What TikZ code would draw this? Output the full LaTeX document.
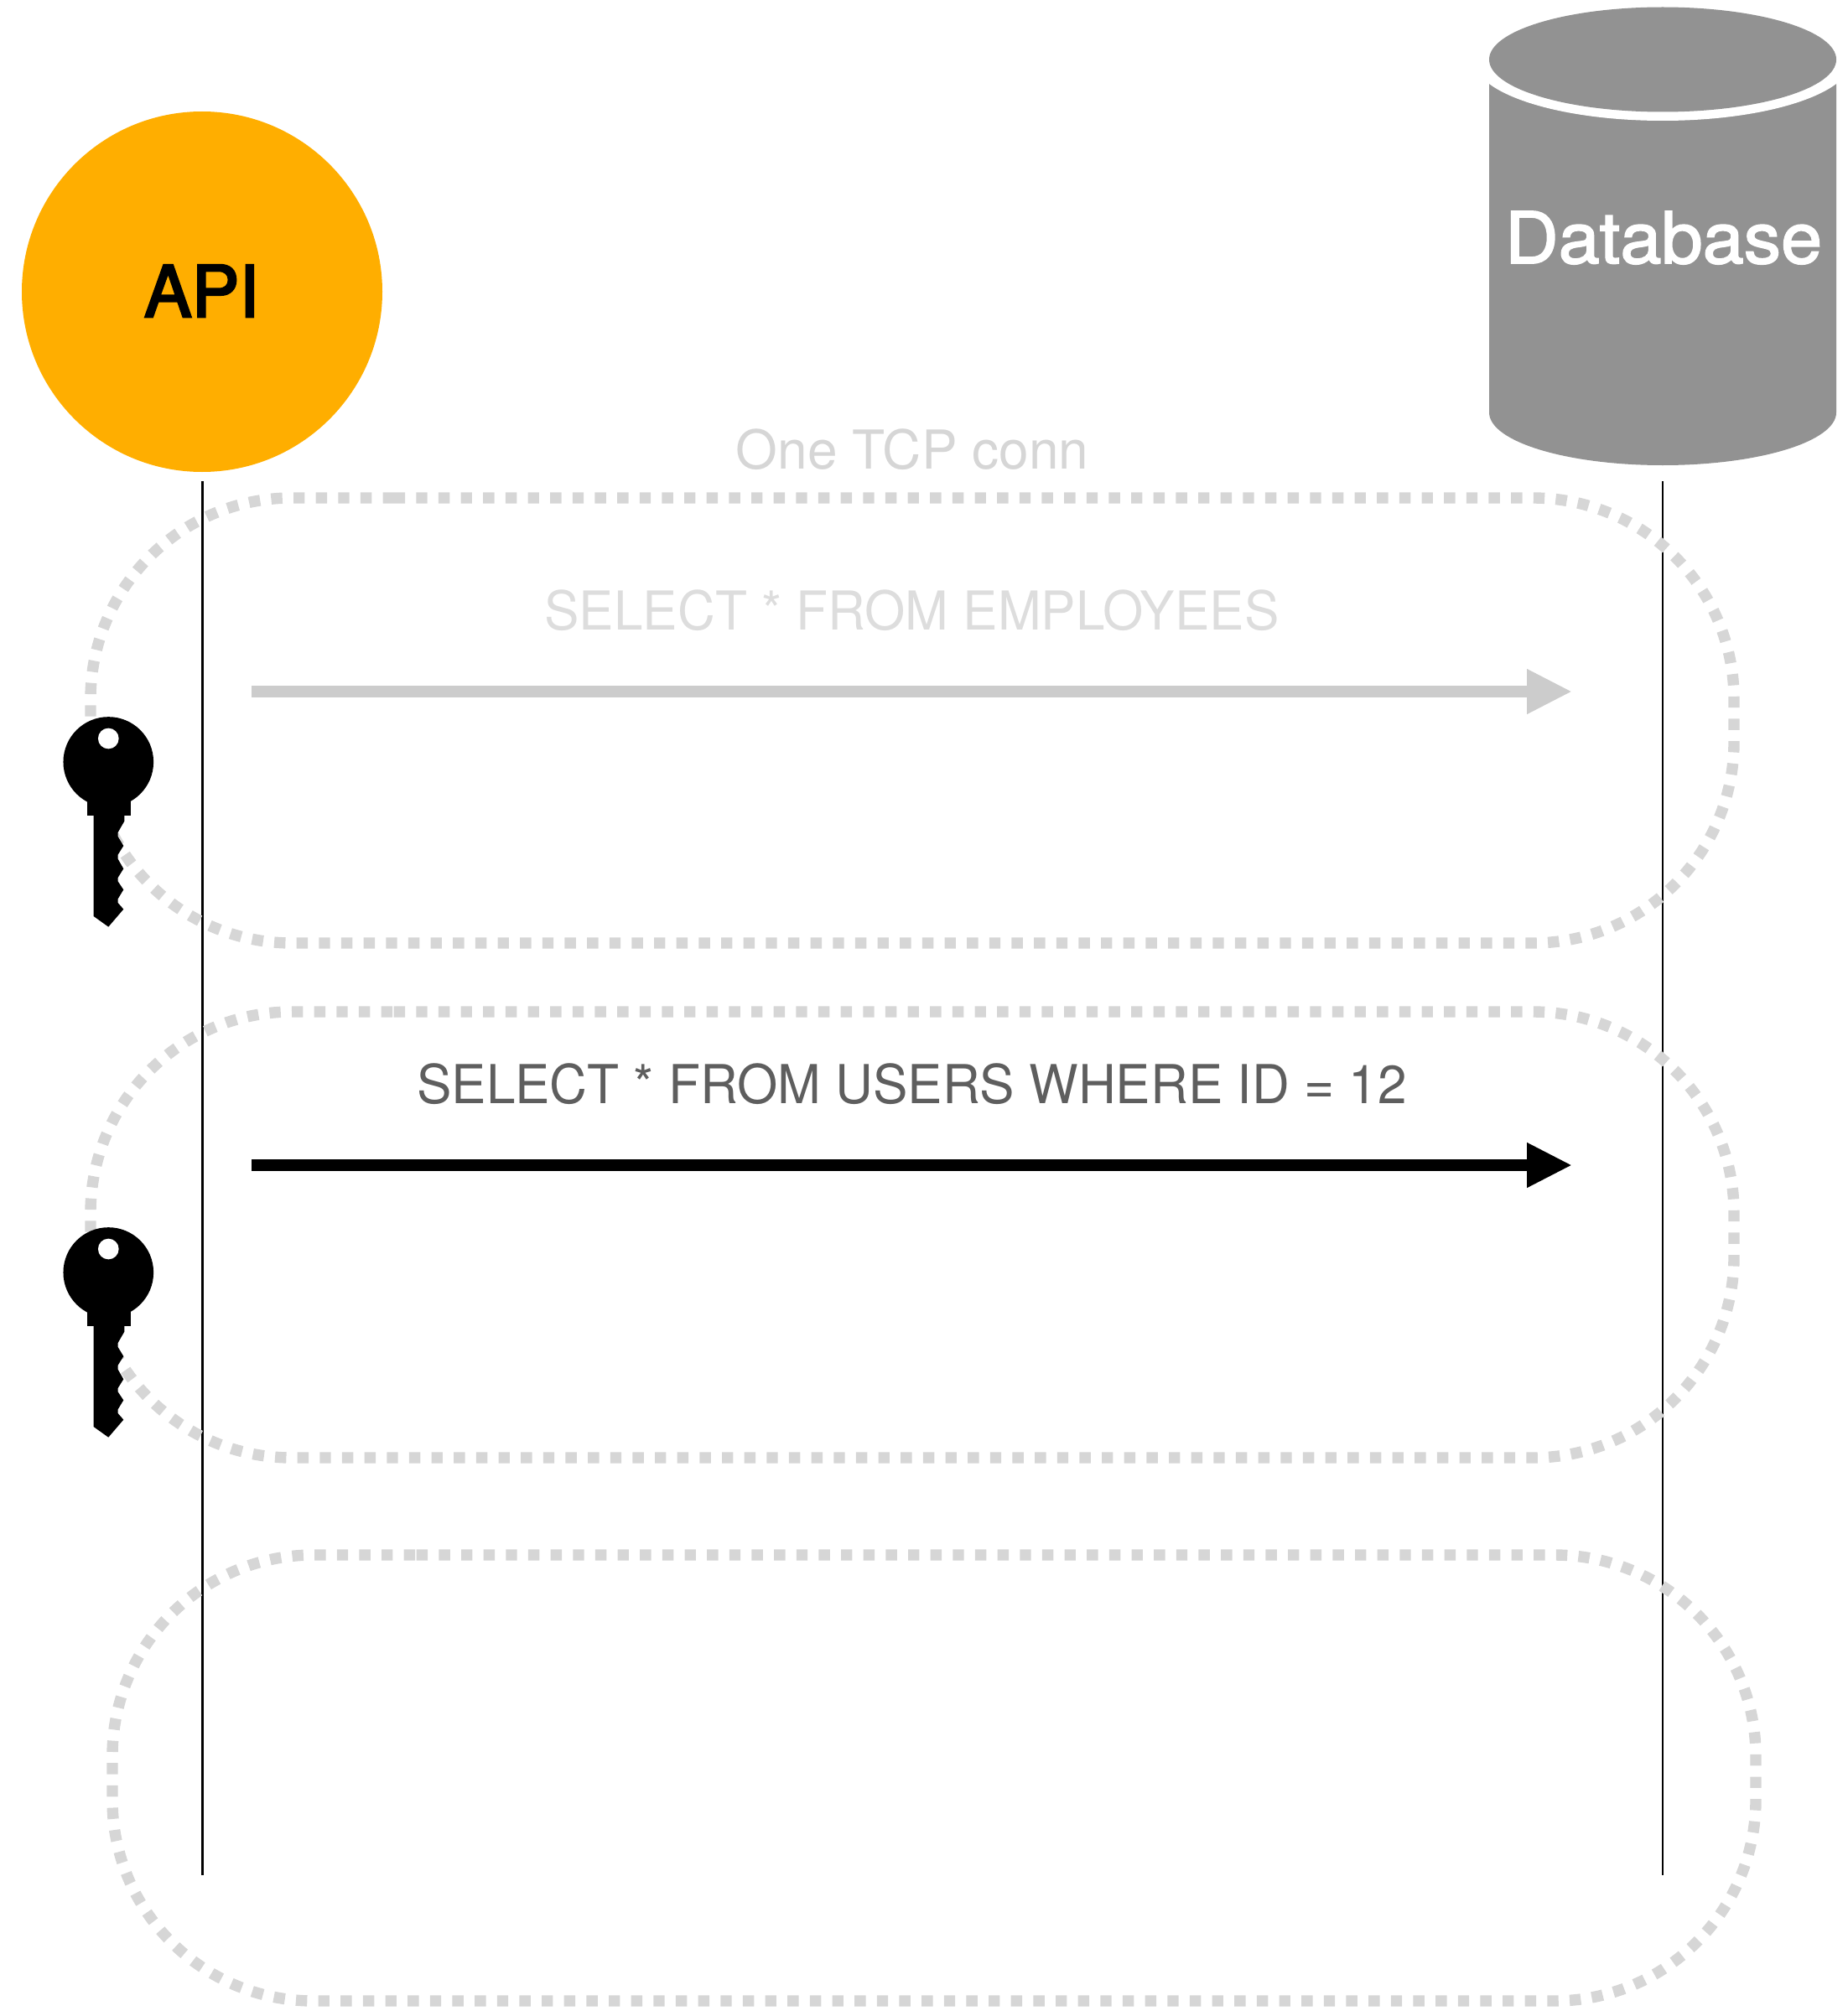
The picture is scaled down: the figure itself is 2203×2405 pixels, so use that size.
\documentclass[tikz,border=0pt]{standalone}
\usepackage{fontspec}
\setmainfont{TeX Gyre Heros}
\newfontfamily\medfont[FakeBold=3]{TeX Gyre Heros}
\newfontfamily\medwidefont[FakeBold=2,FakeStretch=1.04]{TeX Gyre Heros}
\newfontfamily\narrowfont[FakeStretch=0.97]{TeX Gyre Heros}
\usetikzlibrary{arrows.meta}
\definecolor{apiorange}{HTML}{FFAE00}
\definecolor{dbgrey}{HTML}{929292}
\definecolor{dotgrey}{HTML}{D6D6D6}
\definecolor{arrowgrey}{HTML}{CCCCCC}
\definecolor{fadetext}{HTML}{DDDDDD}
\definecolor{connText}{HTML}{D6D6D6}
\definecolor{darktext}{HTML}{5E5E5E}
\tikzset{
  lifeline/.style={draw=black,line width=2.8pt},
  dotted box/.style={draw=dotgrey,line width=13.4pt,rounded corners=240pt,dash pattern=on 13.4pt off 13.25pt},
  call/.style={line width=13.4pt,-{Triangle[length=54pt,width=50pt]}},
  big label/.style={anchor=base,inner sep=0pt,font=\medfont\fontsize{85}{90}\selectfont},
  db label/.style={anchor=base,inner sep=0pt,font=\medwidefont\fontsize{85}{90}\selectfont},
  msg label/.style={anchor=base,inner sep=0pt,font=\narrowfont\fontsize{64}{70}\selectfont},
  conn label/.style={anchor=base,inner sep=0pt,font=\fontsize{64}{70}\selectfont},
  pics/keyicon/.style={code={
    \begin{scope}[scale=1/3]
      \fill[black] (0,0) circle (161.5);
      \fill[black] (-77,130) rectangle (79,191);
      \fill[black] (-53,180) -- (57,180) -- (57,212) -- (34,252) -- (34,267) -- (54,300) -- (34,332) -- (34,347) -- (54,382) -- (34,414) -- (34,427) -- (54,457) -- (34,490) -- (34,504) -- (54,527) -- (0,590) -- (-53,552) -- cycle;
      \fill[white] (0,-84) circle (37);
    \end{scope}
  }}
}
\begin{document}
\begin{tikzpicture}[x=1pt,y=-1pt]
\useasboundingbox (0,0) rectangle (2203,2405);
% lifelines
\coordinate (apiTop) at (241.5,574);
\coordinate (apiEnd) at (241.5,2237);
\coordinate (dbTop) at (1983,574);
\coordinate (dbEnd) at (1983,2237);
\draw[lifeline] (apiTop) -- (apiEnd);
\draw[lifeline] (dbTop) -- (dbEnd);
% dotted boxes
\draw[dotted box] (469.6,594) -- (2068,594) -- (2068,1125) -- (108,1125) -- (108,594) -- (469.6,594);
\draw[dotted box] (469.6,1207) -- (2068,1207) -- (2068,1739) -- (108,1739) -- (108,1207) -- (469.6,1207);
\draw[dotted box] (496.7,1855) -- (2094,1855) -- (2094,2387) -- (134,2387) -- (134,1855) -- (496.7,1855);
% API
\node[circle,fill=apiorange,minimum size=430pt,inner sep=0pt] (api) at (241,348) {};
\node[big label,text=black] (apiText) at (240.5,378) {API};
% database
\fill[dbgrey] (1776,100) -- (1776,492) arc[start angle=180,end angle=360,x radius=207,y radius=-63] -- (2190,100) -- cycle;
\fill[white] (1983,71) ellipse [x radius=225.5,y radius=73];
\fill[dbgrey] (1983,71) ellipse [x radius=207,y radius=62.5];
\node[db label,text=white] (dbText) at (1984,314) {Database};
% labels
\node[conn label,text=connText] (conn) at (1088,559) {One TCP conn};
\node[msg label,text=fadetext] (q1) at (1087.5,751) {SELECT * FROM EMPLOYEES};
\node[msg label,text=darktext] (q2) at (1087.5,1316) {SELECT * FROM USERS WHERE ID = 12};
% arrows
\coordinate (a1s) at (300,825);
\coordinate (a1e) at (1875,825);
\coordinate (a2s) at (300,1390);
\coordinate (a2e) at (1875,1390);
\draw[call,draw=arrowgrey,fill=arrowgrey] (a1s) -- (a1e);
\draw[call,draw=black,fill=black] (a2s) -- (a2e);
% keys
\pic (key1) at (129.3,909) {keyicon};
\pic (key2) at (129.3,1518) {keyicon};
\end{tikzpicture}
\end{document}
